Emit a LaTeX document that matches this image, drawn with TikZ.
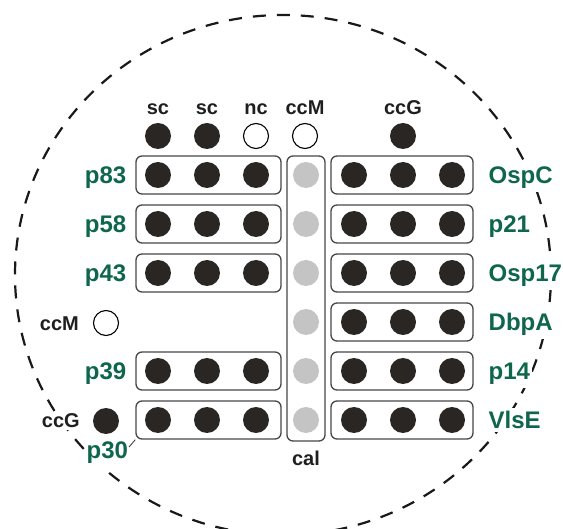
\documentclass[tikz,border=0pt]{standalone}
\usepackage{fontspec}
\setmainfont{Liberation Sans}
\definecolor{labelgreen}{RGB}{14,102,76}
\definecolor{spotdark}{RGB}{42,38,36}
\definecolor{spotgrey}{RGB}{196,196,196}
\definecolor{frame}{RGB}{70,70,70}
\begin{document}
\begin{tikzpicture}[x=1pt,y=-1pt,
  ring/.style={draw=black!90, line width=2.2pt, dash pattern=on 13pt off 11pt},
  spot/.style={circle, fill=spotdark, minimum size=26pt, inner sep=0pt},
  calspot/.style={circle, fill=spotgrey, minimum size=26pt, inner sep=0pt},
  openspot/.style={circle, draw=black, line width=1.1pt, fill=white, minimum size=25pt, inner sep=0pt},
  stripbox/.style={draw=frame, line width=1.3pt, rounded corners=6pt, inner sep=0pt},
  glab/.style={text=labelgreen, font=\bfseries\fontsize{24}{24}\selectfont, fill=white, inner xsep=1.5pt, inner ysep=3.5pt},
  klab/.style={text=black!88, font=\bfseries\fontsize{20}{20}\selectfont, fill=white, inner sep=2pt}]
\useasboundingbox (0,0) rectangle (563,529);
\clip (0,0) rectangle (563,529);

% membrane outline
\draw[ring] (283,275) ellipse [x radius=268pt, y radius=260pt];

% control spots along the top
\node[spot]     (sc1) at (158,136) {};
\node[spot]     (sc2) at (207,136) {};
\node[openspot] (nc)  at (256,136) {};
\node[openspot] (ccMt) at (305,136) {};
\node[spot]     (ccGt) at (403,136) {};
\node[klab, anchor=base] (lsc1) at (158,115) {sc};
\node[klab, anchor=base] (lsc2) at (207,115) {sc};
\node[klab, anchor=base] (lnc)  at (256,115) {nc};
\node[klab, anchor=base] (lccMt) at (305,115) {ccM};
\node[klab, anchor=base] (lccGt) at (403,115) {ccG};

% calibration column
\node[stripbox, minimum width=38pt, minimum height=285pt] (calbox) at (306,298.5) {};
\foreach \r/\y in {1/175,2/224,3/273,4/322,5/371,6/420}
  \node[calspot] (cal\r) at (306,\y) {};
\node[klab, anchor=base] (lcal) at (306,466) {cal};

% left antigen strips
\foreach \r/\y in {1/175,2/224,3/273,5/371,6/420}{
  \node[stripbox, minimum width=145pt, minimum height=38pt] (L\r) at (208.5,\y) {};
  \node[spot] (L\r a) at (158,\y) {};
  \node[spot] (L\r b) at (207,\y) {};
  \node[spot] (L\r c) at (256,\y) {};
}
\foreach \r/\y/\t in {1/175/p83,2/224/p58,3/273/p43,5/371/p39}
  \node[glab, anchor=base east] (lab L\r) at (128,\y+8.5) {\t};

% right antigen strips
\foreach \r/\y/\t in {1/175/OspC,2/224/p21,3/273/Osp17,4/322/DbpA,5/371/p14,6/420/VlsE}{
  \node[stripbox, minimum width=142pt, minimum height=38pt] (R\r) at (402,\y) {};
  \node[spot] (R\r a) at (354,\y) {};
  \node[spot] (R\r b) at (403,\y) {};
  \node[spot] (R\r c) at (452,\y) {};
  \node[glab, anchor=base west] (lab R\r) at (487,\y+8.5) {\t};
}

% side controls
\node[openspot] (ccMs) at (106,323) {};
\node[klab, anchor=base east] (lccMs) at (81,331) {ccM};
\node[spot] (ccGs) at (106,421) {};
\node[klab, anchor=base east] (lccGs) at (82,428) {ccG};

% p30 label with its leader line
\node[glab, anchor=base west] (labp30) at (85,459) {p30};
\coordinate (p30tip) at (129,447);
\draw[frame, line width=0.9pt] (p30tip) -- (L6.south west);
\end{tikzpicture}
\end{document}
